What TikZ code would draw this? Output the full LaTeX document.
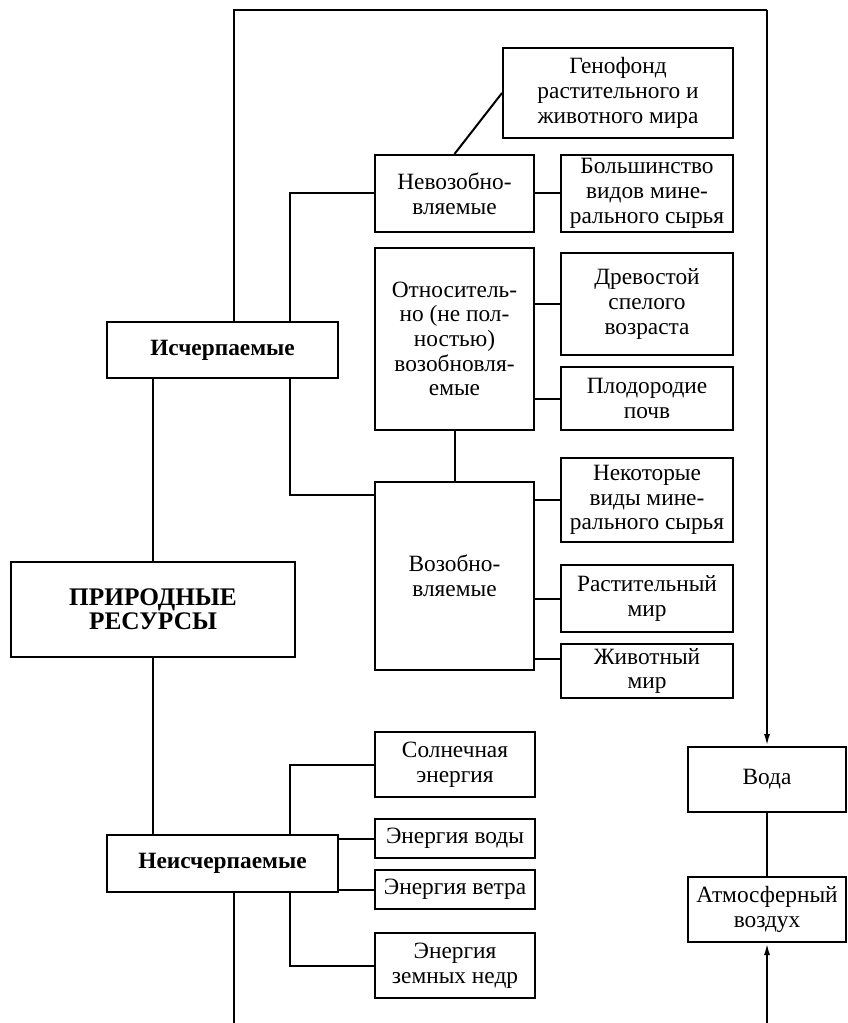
\documentclass[tikz,border=0pt]{standalone}
\usepackage{fontspec}
\setmainfont{Liberation Serif}
\usetikzlibrary{arrows.meta}
\tikzset{
	khung/.style={draw,line width=1.5pt,align=center,inner sep=0pt,font=\fontsize{17.5}{18.5}\selectfont},
	>={Latex[length=9pt,width=4.5pt]}
}
\begin{document}
\begin{tikzpicture}[x=0.75pt,y=0.75pt,line width=1.5pt]
	\useasboundingbox (0,0) rectangle (847,-1023);
	% cot giua
	\node[khung,minimum width=172.5pt,minimum height=67.5pt] (genofond) at (618,-93) {Генофонд\\растительного и\\животного мира};
	\node[khung,minimum width=119.25pt,minimum height=57.75pt] (nevoz) at (454.5,-193.5) {Невозобно-\\вляемые};
	\node[khung,minimum width=129pt,minimum height=57.75pt] (bolsh) at (647,-193.5) {Большинство\\видов мине-\\рального сырья};
	\node[khung,minimum width=119.25pt,minimum height=136.5pt] (otnos) at (454.5,-339) {Относитель-\\но (не пол-\\ностью)\\возобновля-\\емые};
	\node[khung,minimum width=129pt,minimum height=76.5pt] (drevo) at (647,-304) {Древостой\\спелого\\возраста};
	\node[khung,minimum width=129pt,minimum height=47.25pt] (plodo) at (647,-398.5) {Плодородие\\почв};
	\node[khung,minimum width=119.25pt,minimum height=141pt] (vozob) at (454.5,-576) {Возобно-\\вляемые};
	\node[khung,minimum width=129pt,minimum height=63pt] (nekot) at (647,-500) {Некоторые\\виды мине-\\рального сырья};
	\node[khung,minimum width=129pt,minimum height=50.25pt] (rastit) at (647,-598.5) {Растительный\\мир};
	\node[khung,minimum width=129pt,minimum height=40.5pt] (zhivot) at (647,-671) {Животный\\мир};
	% cot trai
	\node[khung,font=\fontsize{17.5}{17}\selectfont\bfseries,minimum width=173.25pt,minimum height=42pt] (ischerp) at (222.5,-350) {Исчерпаемые};
	\node[khung,font=\fontsize{19}{18}\selectfont\bfseries,minimum width=213pt,minimum height=71.25pt] (prirod) at (153,-609.5) {ПРИРОДНЫЕ\\РЕСУРСЫ};
	\node[khung,font=\fontsize{17.5}{17}\selectfont\bfseries,minimum width=173.25pt,minimum height=42.75pt] (neischerp) at (222.5,-863.5) {Неисчерпаемые};
	% nang luong
	\node[khung,minimum width=120pt,minimum height=48.75pt] (solnech) at (455,-764.5) {Солнечная\\энергия};
	\node[khung,minimum width=120pt,minimum height=29.25pt] (evody) at (455,-838.5) {Энергия воды};
	\node[khung,minimum width=120pt,minimum height=29.25pt] (evetra) at (455,-889.5) {Энергия ветра};
	\node[khung,minimum width=120pt,minimum height=48.75pt] (enedr) at (455,-965.5) {Энергия\\земных недр};
	% cot phai
	\node[khung,minimum width=118.5pt,minimum height=48.75pt] (voda) at (767,-779.5) {Вода};
	\node[khung,minimum width=118.5pt,minimum height=48.75pt] (atmos) at (767,-909.5) {Атмосферный\\воздух};
	\coordinate (tl) at (234,-10);
	\coordinate (tr) at (767,-10);
	\coordinate (bl) at (234,-1023);
	\coordinate (br) at (767,-1023);
	\coordinate (bx) at (290,0);
	% vong ngoai
	\draw (ischerp.north -| tl) -- (tl) -- (tr);
	\draw[->] (tr) -- (voda.north);
	\draw (voda) -- (atmos);
	\draw[->] (br) -- (atmos.south);
	\draw (neischerp.south -| bl) -- (bl);
	% nhanh chinh
	\draw (prirod.north) -- (prirod.north |- ischerp.south);
	\draw (prirod.south) -- (prirod.south |- neischerp.north);
	\draw (nevoz.west) -| (ischerp.north -| bx);
	\draw (ischerp.south -| bx) |- ([yshift=-10.5pt]vozob.north west);
	\draw (nevoz.north) -- (genofond.west);
	\draw (nevoz) -- (bolsh);
	\draw (drevo.west) -- (drevo.west -| otnos.east);
	\draw (plodo.west) -- (plodo.west -| otnos.east);
	\draw (otnos) -- (vozob);
	\draw (nekot.west) -- (nekot.west -| vozob.east);
	\draw (rastit.west) -- (rastit.west -| vozob.east);
	\draw ([yshift=9pt]vozob.south east) -- ([yshift=9pt]vozob.south east -| zhivot.west);
	\draw (solnech.west) -| (neischerp.north -| bx);
	\draw (evody.west) -- (evody.west -| neischerp.east);
	\draw (evetra.west) -- (evetra.west -| neischerp.east);
	\draw (neischerp.south -| bx) |- (enedr.west);
\end{tikzpicture}
\end{document}
